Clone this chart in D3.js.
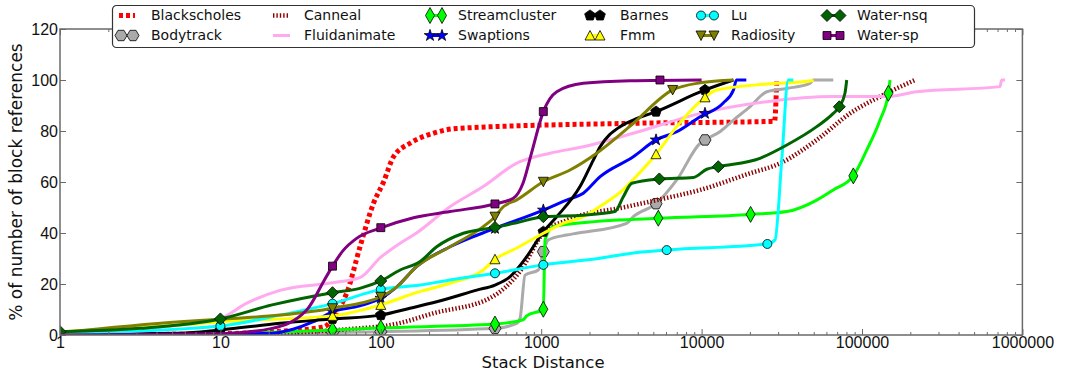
<!DOCTYPE html>
<html>
<head>
<meta charset="utf-8">
<script src="https://cdn.jsdelivr.net/npm/d3@7"></script>
<style>
  html, body { margin: 0; padding: 0; background: #fff; }
  svg { display: block; font-family: "DejaVu Sans", sans-serif; }
</style>
</head>
<body>
<svg id="chart" width="1070" height="371"></svg>
<script>
// Benchmarks, in legend (and drawing) order
const benchmarks = ["Blackscholes", "Bodytrack", "Canneal", "Fluidanimate", "Streamcluster", "Swaptions",
                    "Barnes", "Fmm", "Lu", "Radiosity", "Water-nsq", "Water-sp"];

// Cumulative % of block references reached at each stack distance: [distance, percent]
const blackscholesCurve = [[1,0],[10,0.5],[20,1.2],[43.6,3.1],[55.7,11],[61.3,16.4],[74.2,34.6],[90,51.6],[104,60],[120,69.9],[152,75.2],[212,79.1],[297,81],[3580,83],[28500,83.8],[29400,100]];
const bodytrackCurve = [[1,0],[10,0.3],[50,1],[100,1.3],[515,2.6],[703,4.6],[738,6.5],[793,23.5],[960,25.5],[1031,32.7],[1107,37.3],[1443,39.2],[1665,39.9],[3410,43.8],[3750,46.4],[5200,51.5],[7000,60.8],[9800,75.2],[10500,76.5],[13000,79.7],[15800,84.3],[20000,89.5],[25500,95.4],[34000,96.7],[47400,98.7],[49700,100],[66200,100]];
const cannealCurve = [[1,0],[10,0.3],[30,1],[60,2.2],[130,4.6],[212,8.5],[480,14.5],[738,25],[1031,40],[1443,45],[3410,50.3],[5250,52.9],[9800,56.9],[20000,63.4],[30800,67.3],[52200,76.5],[84200,86.9],[142600,94.8],[214000,100]];
const fluidanimateCurve = [[1,0.3],[2.4,1.8],[5.6,3.9],[10,6.5],[14.6,12.5],[23.5,17.5],[50,20.5],[74,22.5],[100,30.5],[132,36],[167,40],[270,50.3],[435,58.2],[700,67.3],[1135,71.3],[1830,73.8],[3700,79],[9800,86.9],[25500,91.5],[66000,93.5],[142000,93.5],[219000,95.4],[725000,97.4],[743000,100],[780000,100]];
const streamclusterCurve = [[1,0],[10,0.5],[50,2],[100,2.8],[515,4.3],[773,6],[812,7.5],[1031,10.1],[1057,37.3],[1190,42.5],[1665,43.8],[5370,45.8],[20200,47.3],[34000,48.4],[52200,52.9],[66200,56.9],[88300,62.4],[107000,72.5],[129500,84.3],[146000,94.8],[149500,100]];
const swaptionsCurve = [[1,0],[10,0.3],[21,0.7],[38,5.2],[50,9.1],[74,11.4],[100,14.4],[126,18.9],[167,26.8],[270,34.6],[515,41.8],[1031,49],[1440,52.9],[1830,55.6],[2330,62.1],[3750,69.9],[5200,76.5],[7000,79.7],[9800,85.6],[13600,90.9],[15800,96.1],[16500,100],[19000,100]];
const barnesCurve = [[1,0.3],[5.6,0.7],[10,2],[23.5,4.6],[50,6.3],[100,7.8],[152,10.5],[245,13.7],[396,17.6],[515,19.6],[640,22.9],[812,30.7],[1031,40.5],[1250,46.4],[1746,58.2],[2113,68.6],[2330,73.8],[3100,81.7],[3750,84.3],[5200,87.6],[10500,96.1],[15800,100]];
const fmmCurve = [[1,1.3],[5.6,3.9],[10,5.2],[50,7.5],[100,11.8],[170,16.8],[270,20.3],[435,25.5],[515,29.7],[700,34],[1031,39.9],[1370,43.8],[1830,46.4],[2330,50.5],[3250,57],[3750,61],[5200,70.9],[7000,81.7],[10500,93.2],[12400,96.1],[25500,98.4],[48500,99.7],[50000,100]];
const luCurve = [[1,0.5],[10,3.5],[23.5,7.8],[50,12.3],[100,17.9],[176,19.6],[270,21.6],[515,24.2],[1031,27.5],[2330,30.1],[3580,32],[6060,33.3],[25700,35.7],[28700,37.3],[31600,68.6],[34700,100],[37300,100]];
const radiosityCurve = [[1,0.9],[5.6,5.2],[10,6.2],[23.5,7.8],[50,10.5],[104,15.5],[126,18.9],[167,26.8],[270,34.6],[435,42.5],[515,46.4],[580,50.3],[700,52.9],[1031,60.1],[1512,64.7],[2218,71.3],[3600,82],[6600,96.1],[9800,98.9],[15800,100]];
const waterNsqCurve = [[1,1.3],[3.15,2.6],[10,6.3],[21,11.8],[50,16.6],[74,18.3],[100,21.2],[132,25.5],[175,28.7],[223,34.6],[327,39.9],[515,42.2],[700,44],[1031,46.4],[1830,47],[2880,48.4],[3250,54.2],[3670,59.5],[5450,61.2],[8880,61.8],[10760,65],[12700,66],[23100,69.3],[34000,74.5],[52200,81.7],[66200,86.9],[72200,89.5],[78300,94.8],[80300,100]];
const waterSpCurve = [[1,0],[10,0.5],[21,2.6],[34.5,9.8],[44,21],[50,27],[58,33],[71,38],[100,42],[160,46],[270,48.4],[515,51.4],[670,53.6],[770,59.5],[870,71.3],[1031,87.6],[1250,95.4],[1830,98.7],[3580,99.7],[10000,100]];

// Marked samples on each curve: [distance, percent]
const blackscholesMarks = [];
const bodytrackMarks = [[50,1],[100,1.3],[515,2.6],[1031,32.7],[5200,51.5],[10500,76.5]];
const cannealMarks = [];
const fluidanimateMarks = [];
const streamclusterMarks = [[50,2],[100,2.8],[515,4.3],[1031,10.1],[5370,45.8],[20200,47.3],[88300,62.4],[146000,94.8]];
const swaptionsMarks = [[50,9.1],[100,14.4],[515,41.8],[1031,49],[5200,76.5],[10500,86.9]];
const barnesMarks = [[1,0.3],[10,2],[50,6.3],[100,7.8],[1031,40.5],[5200,87.6],[10500,96.1]];
const fmmMarks = [[10,5.2],[50,7.5],[100,11.8],[515,29.7],[5200,70.9],[10500,93.2]];
const luMarks = [[1,0.5],[10,3.5],[50,12.3],[100,17.9],[515,24.2],[1031,27.5],[6060,33.3],[25700,35.7]];
const radiosityMarks = [[50,10.5],[100,15],[515,46.4],[1031,60.1],[6600,96.1]];
const waterNsqMarks = [[1,1.3],[10,6.3],[50,16.6],[100,21.2],[515,42.2],[1031,46.4],[5450,61.2],[12700,66],[72200,89.5]];
const waterSpMarks = [[50,27],[100,42.1],[515,51.4],[1031,87.6],[5500,100]];

// Axis ticks
const xTickValues = [1, 10, 100, 1000, 10000, 100000, 1000000];
const yTickValues = [0, 20, 40, 60, 80, 100, 120];

const curves = [blackscholesCurve, bodytrackCurve, cannealCurve, fluidanimateCurve, streamclusterCurve, swaptionsCurve,
                barnesCurve, fmmCurve, luCurve, radiosityCurve, waterNsqCurve, waterSpCurve];
const marks = [blackscholesMarks, bodytrackMarks, cannealMarks, fluidanimateMarks, streamclusterMarks, swaptionsMarks,
               barnesMarks, fmmMarks, luMarks, radiosityMarks, waterNsqMarks, waterSpMarks];

// Line and marker styles per benchmark
const styles = [
  { color: "#ff0000", width: 5,   dash: "4,3",   marker: null },
  { color: "#aaaaaa", width: 3,   dash: null,    marker: "hexagon",   fill: "#aaaaaa" },
  { color: "#8b0000", width: 4.5, dash: "1.4,2", marker: null },
  { color: "#ffaaee", width: 3,   dash: null,    marker: null },
  { color: "#00ff00", width: 3,   dash: null,    marker: "thinDiamond", fill: "#00ff00" },
  { color: "#0000ff", width: 3,   dash: null,    marker: "star",      fill: "#0000ff" },
  { color: "#000000", width: 3,   dash: null,    marker: "pentagon",  fill: "#000000" },
  { color: "#ffff00", width: 3,   dash: null,    marker: "triUp",     fill: "#ffff00" },
  { color: "#00ffff", width: 3,   dash: null,    marker: "circle",    fill: "#00ffff" },
  { color: "#808000", width: 3,   dash: null,    marker: "triDown",   fill: "#808000" },
  { color: "#006400", width: 3,   dash: null,    marker: "diamond",   fill: "#006400" },
  { color: "#800080", width: 3,   dash: null,    marker: "square",    fill: "#800080" }
];

const svg = d3.select("#chart");
const margin = { left: 60, right: 1022.4, top: 29, bottom: 335 };

const x = d3.scaleLog().domain([1, 1e6]).range([margin.left, margin.right]);
const y = d3.scaleLinear().domain([0, 120]).range([margin.bottom, margin.top]);

function polygonPath(n, r, startDeg) {
  const pts = d3.range(n).map(i => {
    const a = (startDeg + i * 360 / n) * Math.PI / 180;
    return [r * Math.cos(a), r * Math.sin(a)];
  });
  return "M" + pts.map(p => p[0].toFixed(2) + "," + p[1].toFixed(2)).join("L") + "Z";
}

const markerShapes = {
  circle: d3.symbol(d3.symbolCircle, Math.PI * 4.5 * 4.5)(),
  square: "M-4,-4L4,-4L4,4L-4,4Z",
  triUp: "M0,-5L5,4.5L-5,4.5Z",
  triDown: "M0,5L5,-4.5L-5,-4.5Z",
  diamond: "M0,-6L6,0L0,6L-6,0Z",
  thinDiamond: "M0,-8L4.5,0L0,8L-4.5,0Z",
  pentagon: polygonPath(5, 5.6, -90),
  hexagon: polygonPath(6, 6, 0),
  star: d3.symbol(d3.symbolStar, 42)()
};

// Plot clip region
svg.append("defs").append("clipPath").attr("id", "plotClip")
  .append("rect")
  .attr("x", margin.left).attr("y", margin.top)
  .attr("width", margin.right - margin.left).attr("height", margin.bottom - margin.top);

const plot = svg.append("g").attr("clip-path", "url(#plotClip)");

const line = d3.line()
  .x(d => x(d[0]))
  .y(d => y(d[1]))
  .curve(d3.curveMonotoneX);

benchmarks.forEach((name, i) => {
  const st = styles[i];
  const g = plot.append("g").attr("class", "series");
  g.append("path")
    .datum(curves[i])
    .attr("d", line)
    .attr("fill", "none")
    .attr("stroke", st.color)
    .attr("stroke-width", st.width)
    .attr("stroke-dasharray", st.dash)
    .attr("stroke-linejoin", "round");
  if (st.marker) {
    g.selectAll("path.mark")
      .data(marks[i])
      .join("path")
      .attr("class", "mark")
      .attr("d", markerShapes[st.marker])
      .attr("transform", d => `translate(${x(d[0])},${y(d[1])})`)
      .attr("fill", st.fill)
      .attr("stroke", "#000")
      .attr("stroke-width", 0.8);
  }
});

// Axes: inward ticks on all four sides
const minorX = [];
for (let e = 0; e < 6; e++) for (let k = 2; k <= 9; k++) minorX.push(k * Math.pow(10, e));

const axisColor = "#6a6a6a";
function styleAxis(g) {
  g.select(".domain").remove();
  g.selectAll(".tick line").attr("stroke", axisColor).attr("stroke-width", 1);
  g.selectAll(".tick text").attr("fill", "#111").attr("font-size", 16);
}

svg.append("g").attr("transform", `translate(0,${margin.bottom})`)
  .call(d3.axisBottom(x).tickValues(xTickValues).tickFormat(d3.format("d")).tickSize(-6).tickPadding(2))
  .call(styleAxis);
svg.append("g").attr("transform", `translate(0,${margin.bottom})`)
  .call(d3.axisBottom(x).tickValues(minorX).tickFormat("").tickSize(-3))
  .call(styleAxis);
svg.append("g").attr("transform", `translate(0,${margin.top})`)
  .call(d3.axisTop(x).tickValues(xTickValues).tickFormat("").tickSize(-6))
  .call(styleAxis);
svg.append("g").attr("transform", `translate(0,${margin.top})`)
  .call(d3.axisTop(x).tickValues(minorX).tickFormat("").tickSize(-3))
  .call(styleAxis);
svg.append("g").attr("transform", `translate(${margin.left},0)`)
  .call(d3.axisLeft(y).tickValues(yTickValues).tickFormat(d3.format("d")).tickSize(-6).tickPadding(2))
  .call(styleAxis);
svg.append("g").attr("transform", `translate(${margin.right},0)`)
  .call(d3.axisRight(y).tickValues(yTickValues).tickFormat("").tickSize(-6))
  .call(styleAxis);

// Frame
svg.append("rect")
  .attr("x", margin.left).attr("y", margin.top)
  .attr("width", margin.right - margin.left).attr("height", margin.bottom - margin.top)
  .attr("fill", "none").attr("stroke", axisColor).attr("stroke-width", 1.5);

// Axis titles
svg.append("text")
  .attr("x", 543).attr("y", 368)
  .attr("text-anchor", "middle").attr("font-size", 16.5).attr("fill", "#111")
  .text("Stack Distance");
svg.append("text")
  .attr("transform", `translate(22,${(margin.top + margin.bottom) / 2}) rotate(-90)`)
  .attr("text-anchor", "middle").attr("font-size", 17).attr("fill", "#111")
  .text("% of number of block references");

// Legend: 6 columns x 2 rows, filled column by column
const legendCols = [
  { m1: 121, m2: 133, tx: 151 },
  { m1: 275, m2: 288, tx: 304 },
  { m1: 430, m2: 442, tx: 458 },
  { m1: 590, m2: 600, tx: 620 },
  { m1: 701, m2: 714, tx: 731 },
  { m1: 827, m2: 840, tx: 857 }
];
const legendRows = [15.5, 35.5];

const legend = svg.append("g");
legend.append("rect")
  .attr("x", 112.5).attr("y", 5.5).attr("width", 862).attr("height", 42)
  .attr("rx", 4).attr("fill", "#fff").attr("stroke", "#333").attr("stroke-width", 1.2);

benchmarks.forEach((name, i) => {
  const col = legendCols[Math.floor(i / 2)];
  const ly = legendRows[i % 2];
  const st = styles[i];
  const g = legend.append("g");
  const pad = st.marker ? 0 : 2;
  g.append("line")
    .attr("x1", col.m1 - pad).attr("x2", col.m2 + pad)
    .attr("y1", ly).attr("y2", ly)
    .attr("stroke", st.color)
    .attr("stroke-width", st.width)
    .attr("stroke-dasharray", st.dash);
  if (st.marker) {
    [col.m1, col.m2].forEach(mx => {
      g.append("path")
        .attr("d", markerShapes[st.marker])
        .attr("transform", `translate(${mx},${ly})`)
        .attr("fill", st.fill).attr("stroke", "#000").attr("stroke-width", 0.8);
    });
  }
  g.append("text")
    .attr("x", col.tx).attr("y", ly).attr("dy", "0.35em")
    .attr("font-size", 14).attr("fill", "#111")
    .text(name);
});
</script>
</body>
</html>
